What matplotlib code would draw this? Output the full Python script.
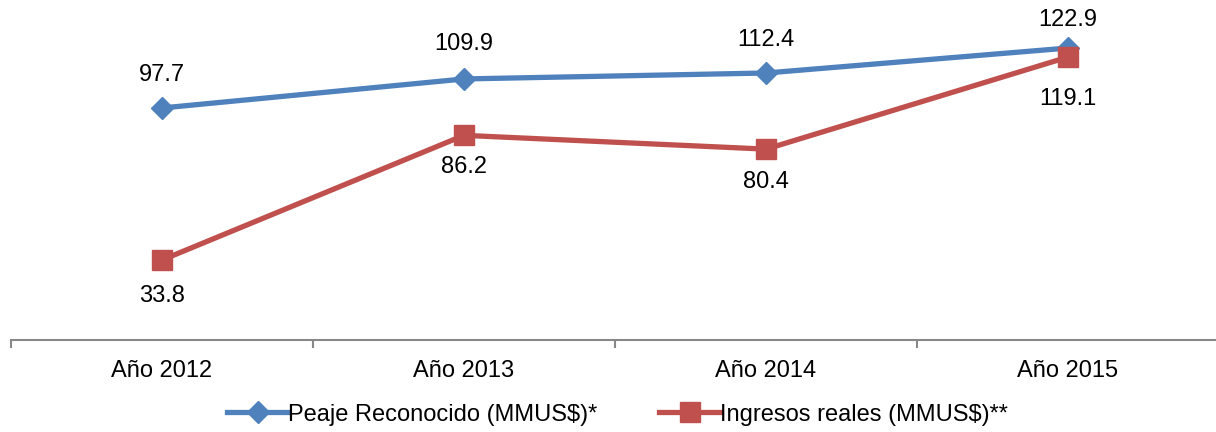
import matplotlib
matplotlib.use('Agg')
import matplotlib.pyplot as plt
import numpy as np

# categorias y series (MMUS$)
anios = ['Año 2012', 'Año 2013', 'Año 2014', 'Año 2015']
peaje = [97.7, 109.9, 112.4, 122.9]
ingresos = [33.8, 86.2, 80.4, 119.1]

plt.rcParams['font.family'] = ['Liberation Sans', 'DejaVu Sans']

fig = plt.figure(figsize=(12.16, 4.32), dpi=100)
ax = fig.add_axes([11 / 1216, 0.212, 1208 / 1216, 0.771])

azul = '#4F81BD'
rojo = '#C0504D'
x = np.arange(len(anios))

ax.plot(x, peaje, color=azul, lw=3.8, marker='D', ms=11.5, label='Peaje Reconocido (MMUS$)*')
ax.plot(x, ingresos, color=rojo, lw=3.8, marker='s', ms=14.5, label='Ingresos reales (MMUS$)**')

# desplazamiento vertical de cada etiqueta (puntos)
off_peaje = [24, 25, 24, 20]
off_ingresos = [-26, -23, -24, -30]
for xi, v, d in zip(x, peaje, off_peaje):
    ax.annotate(f'{v:.1f}', (xi, v), xytext=(0, d), textcoords='offset points',
                ha='center', va='center', fontsize=17)
for xi, v, d in zip(x, ingresos, off_ingresos):
    ax.annotate(f'{v:.1f}', (xi, v), xytext=(0, d), textcoords='offset points',
                ha='center', va='center', fontsize=17)

ax.set_xlim(-0.5, 3.5)
ax.set_ylim(0, 140)
ax.set_xticks(x)
ax.set_xticklabels(anios, fontsize=17)
ax.set_xticks(np.arange(-0.5, 4, 1), minor=True)
ax.tick_params(axis='x', which='major', length=0, pad=14)
ax.tick_params(axis='x', which='minor', length=6, width=1.5, color='#888888', direction='out')
ax.set_yticks([])
for s in ['top', 'right', 'left']:
    ax.spines[s].set_visible(False)
ax.spines['bottom'].set_color('#888888')
ax.spines['bottom'].set_linewidth(1.5)

fig.legend(loc='center', bbox_to_anchor=(0.508, 0.04), ncol=2, frameon=False,
           fontsize=17, handlelength=2.6, handletextpad=0.0, columnspacing=2.6)

fig.savefig('out.png', dpi=100)
